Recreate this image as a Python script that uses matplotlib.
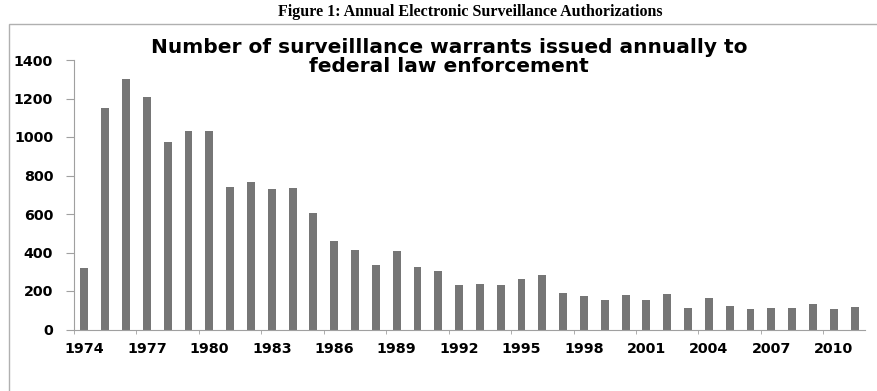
import matplotlib.pyplot as plt
from matplotlib.patches import Rectangle
import numpy as np

years = list(range(1974, 2012))
warrants = [320, 1152, 1300, 1210, 974, 1033, 1033, 740, 767, 730, 735,
            604, 459, 413, 335, 410, 327, 306, 233, 238, 233, 263, 283,
            188, 176, 152, 179, 152, 183, 110, 162, 122, 107, 110, 110,
            133, 107, 117]
label_years = years[::3]

fig = plt.figure(figsize=(8.78, 3.91), dpi=100)

# light frame around the chart area (only top/left edges visible)
fig.patches.append(Rectangle((9 / 878, -0.05), 1.2, (391 - 24) / 391 + 0.05,
                             transform=fig.transFigure, fill=False,
                             edgecolor='#b0b0b0', linewidth=1.0))

fig.text(470 / 878, 1 - 12 / 391, 'Figure 1: Annual Electronic Surveillance Authorizations',
         ha='center', va='center', fontsize=11.5, fontweight='bold',
         family='Liberation Serif')

fig.text(449 / 878, 1 - 57 / 391,
         'Number of surveilllance warrants issued annually to\nfederal law enforcement',
         ha='center', va='center', fontsize=14.5, fontweight='bold',
         family='DejaVu Sans', linespacing=0.95)

ax = fig.add_axes([74 / 878, (391 - 329.5) / 391, (865 - 74) / 878, (329.5 - 60) / 391])

x = np.arange(len(years))
ax.bar(x, warrants, width=0.38, color='#767676')

ax.set_xlim(-0.5, len(years) - 0.5)
ax.set_ylim(0, 1400)
ax.set_yticks(range(0, 1401, 200))

ax.set_xticks(x[::3])
ax.set_xticklabels([str(y) for y in label_years])
ax.set_xticks(np.arange(-0.5, len(years), 3), minor=True)
ax.tick_params(axis='x', which='major', length=0, pad=9)
ax.tick_params(axis='x', which='minor', length=3, color='#a0a0a0')
ax.tick_params(axis='y', length=6, color='#a0a0a0', pad=9)

for lbl in ax.get_xticklabels() + ax.get_yticklabels():
    lbl.set_fontweight('bold')
    lbl.set_fontsize(10.3)
    lbl.set_family('DejaVu Sans')

for side in ['top', 'right']:
    ax.spines[side].set_visible(False)
for side in ['left', 'bottom']:
    ax.spines[side].set_color('#a0a0a0')
    ax.spines[side].set_linewidth(0.8)

fig.savefig('out.png', dpi=100)
